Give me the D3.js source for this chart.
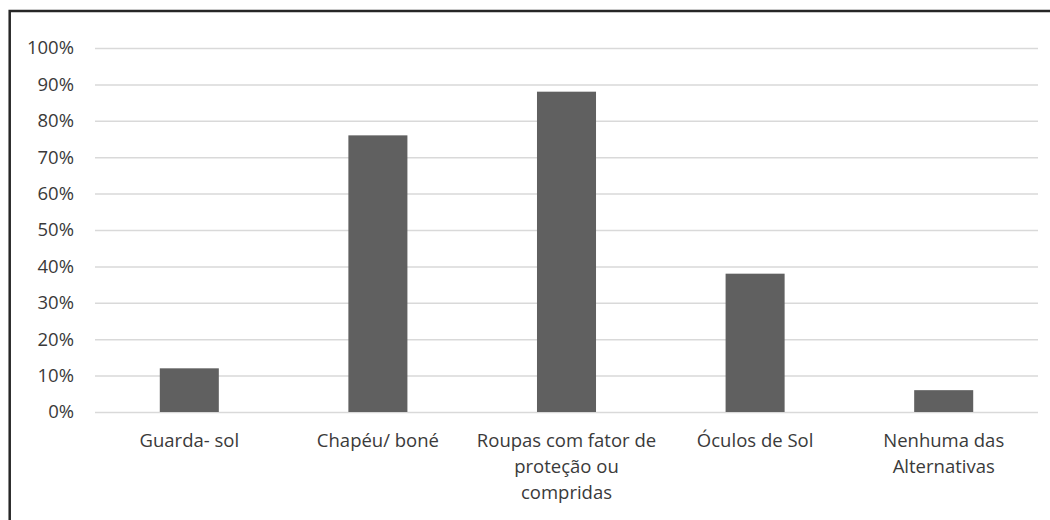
<!DOCTYPE html>
<meta charset="utf-8">
<style>
body { margin: 0; background: #fff; }
svg text { font-family: "Open Sans", "Noto Sans", sans-serif; fill: #3a3a3a; }
.grid line { stroke: #d9d9d9; stroke-width: 1.5px; }
.bar { fill: #606060; }
</style>
<body>
<div id="chart"></div>
<script src="https://cdnjs.cloudflare.com/ajax/libs/d3/7.8.5/d3.min.js"></script>
<script>
// data
var categories = ["Guarda- sol", "Chapéu/ boné", "Roupas com fator de\nproteção ou\ncompridas", "Óculos de Sol", "Nenhuma das\nAlternativas"];
var values = [0.12, 0.76, 0.88, 0.38, 0.06];
var yTicks = [0, 0.1, 0.2, 0.3, 0.4, 0.5, 0.6, 0.7, 0.8, 0.9, 1.0];

var W = 1050, H = 520;
var margin = {top: 48, left: 95, right: 12, bottom: 108};
var width = W - margin.left - margin.right,
    height = H - margin.top - margin.bottom;
var fontSize = "18.5px";

var svg = d3.select("#chart").append("svg")
    .attr("width", W)
    .attr("height", H);

// outer frame, only top and left edges show
svg.append("rect")
    .attr("x", 9.7).attr("y", 11)
    .attr("width", W + 20).attr("height", H + 20)
    .attr("fill", "none")
    .attr("stroke", "#262626")
    .attr("stroke-width", 2.5);

var g = svg.append("g").attr("transform", "translate(" + margin.left + "," + margin.top + ")");

var x = d3.scaleBand()
    .domain(categories)
    .range([0, width])
    .paddingInner(0.687)
    .paddingOuter(0.3435);

var y = d3.scaleLinear()
    .domain([0, 1])
    .range([height, 0]);

//gridlines + y labels
var yAxis = d3.axisLeft(y)
    .tickValues(yTicks)
    .tickSize(-width)
    .tickPadding(21)
    .tickFormat(d3.format(".0%"));

g.append("g")
    .attr("class", "grid")
    .call(yAxis)
    .call(function(s) { s.select(".domain").remove(); })
    .selectAll("text")
    .style("font-size", fontSize)
    .attr("fill", "#3a3a3a");

g.selectAll("rect.bar")
    .data(values)
    .enter().append("rect")
    .attr("class", "bar")
    .attr("x", function(d, i) { return x(categories[i]); })
    .attr("y", function(d) { return y(d); })
    .attr("width", x.bandwidth())
    .attr("height", function(d) { return height - y(d); });

var xAxis = d3.axisBottom(x).tickSize(0).tickPadding(0);

var xg = g.append("g")
    .attr("transform", "translate(0," + height + ")")
    .call(xAxis);
xg.select(".domain").remove();

// break the labels on \n
xg.selectAll(".tick text")
    .style("font-size", fontSize)
    .attr("fill", "#3a3a3a")
    .each(function(d) {
      var t = d3.select(this);
      var lines = d.split("\n");
      t.text(null).attr("y", null).attr("dy", null);
      lines.forEach(function(l, i) {
        t.append("tspan").attr("x", 0).attr("y", 35 + i * 26).text(l);
      });
    });
</script>
</body>
